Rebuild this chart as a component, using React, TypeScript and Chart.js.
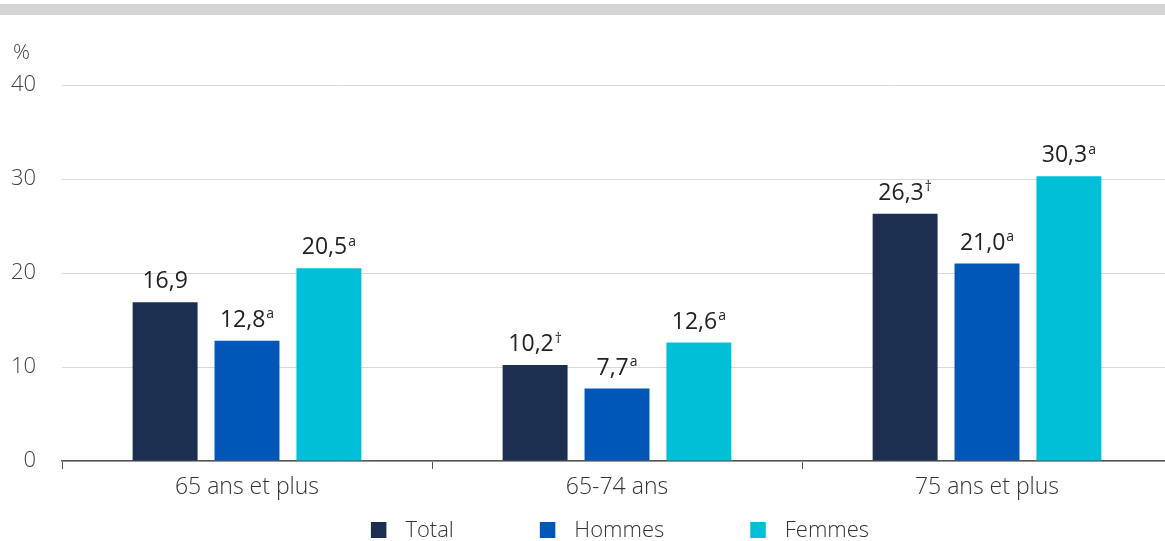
import React, { useEffect, useRef } from "react";
import { Chart, registerables } from "chart.js";

Chart.register(...registerables);

const categories = ["65 ans et plus", "65-74 ans", "75 ans et plus"];
const seriesNames = ["Total", "Hommes", "Femmes"];
const totalValues = [16.9, 10.2, 26.3];
const hommesValues = [12.8, 7.7, 21.0];
const femmesValues = [20.5, 12.6, 30.3];
const totalNotes = ["", "†", "†"];
const hommesNotes = ["a", "a", "a"];
const femmesNotes = ["a", "a", "a"];
const seriesColors = ["#1d2f50", "#0057b8", "#00bfd6"];
const yTicks = [0, 10, 20, 30, 40];
const unitLabel = "%";

const FONT = "'Open Sans', 'Noto Sans', sans-serif";

const labelsPlugin = {
  id: "valueLabels",
  afterDatasetsDraw(chart: any) {
    const ctx = chart.ctx;
    const notes = [totalNotes, hommesNotes, femmesNotes];
    ctx.save();
    chart.data.datasets.forEach((ds: any, di: number) => {
      const meta = chart.getDatasetMeta(di);
      meta.data.forEach((bar: any, i: number) => {
        const main = ds.data[i].toFixed(1).replace(".", ",");
        const sup = notes[di][i] || "";
        ctx.font = `23px ${FONT}`;
        const wMain = ctx.measureText(main).width;
        ctx.font = `14px ${FONT}`;
        const wSup = sup ? ctx.measureText(sup).width + 1 : 0;
        const total = wMain + wSup;
        const x0 = bar.x - total / 2;
        const base = bar.y - 14;
        ctx.fillStyle = "#222";
        ctx.textAlign = "left";
        ctx.textBaseline = "alphabetic";
        ctx.font = `23px ${FONT}`;
        ctx.fillText(main, x0, base);
        if (sup) {
          ctx.font = `14px ${FONT}`;
          ctx.fillText(sup, x0 + wMain + 1, base - 8.3);
        }
      });
    });
    ctx.restore();
  },
};

const extrasPlugin = {
  id: "extras",
  afterDraw(chart: any) {
    const ctx = chart.ctx;
    const area = chart.chartArea;
    ctx.save();
    // unit label
    ctx.font = `300 21px ${FONT}`;
    ctx.fillStyle = "#444";
    ctx.textAlign = "left";
    ctx.textBaseline = "alphabetic";
    ctx.fillText(unitLabel, 13, area.top - 26);
    // legend
    const box = 15.5;
    const gapText = 19;
    const gapItem = 86;
    ctx.font = `300 22px ${FONT}`;
    const items = chart.data.datasets.map((ds: any) => ({
      label: ds.label,
      color: ds.backgroundColor,
      w: ctx.measureText(ds.label).width,
    }));
    let totalW = 0;
    items.forEach((it: any, i: number) => {
      totalW += box + gapText + it.w + (i < items.length - 1 ? gapItem : 0);
    });
    let x = (area.left + area.right) / 2 - totalW / 2 + 3;
    const cy = area.bottom + 69;
    items.forEach((it: any) => {
      ctx.fillStyle = it.color;
      ctx.fillRect(x, cy - 8, box, 16);
      ctx.fillStyle = "#333";
      ctx.textBaseline = "middle";
      ctx.fillText(it.label, x + box + gapText, cy + 1);
      x += box + gapText + it.w + gapItem;
    });
    ctx.restore();
  },
};

export default function App() {
  const ref = useRef<HTMLCanvasElement | null>(null);

  useEffect(() => {
    document.body.style.margin = "0";
    document.body.style.overflow = "hidden";
    if (!ref.current) return;
    const chart = new Chart(ref.current, {
      type: "bar",
      data: {
        labels: categories,
        datasets: [
          { label: seriesNames[0], data: totalValues, backgroundColor: seriesColors[0] },
          { label: seriesNames[1], data: hommesValues, backgroundColor: seriesColors[1] },
          { label: seriesNames[2], data: femmesValues, backgroundColor: seriesColors[2] },
        ],
      },
      options: {
        animation: false,
        responsive: false,
        maintainAspectRatio: false,
        events: [],
        datasets: {
          bar: { categoryPercentage: 0.664, barPercentage: 0.793 },
        },
        layout: { padding: { top: 85, bottom: 35, left: 0, right: 3 } },
        plugins: {
          legend: { display: false },
          tooltip: { enabled: false },
        },
        scales: {
          x: {
            grid: {
              display: true,
              drawOnChartArea: false,
              drawTicks: true,
              tickLength: 8,
              offset: true,
              color: "#555",
            },
            border: { display: true, color: "#555", width: 1.5 },
            ticks: {
              padding: 5,
              color: "#333",
              font: { family: FONT, size: 23, weight: "300" },
            },
            afterFit(scale: any) {
              scale.height = 45;
            },
          },
          y: {
            min: 0,
            max: 40,
            afterBuildTicks(scale: any) {
              scale.ticks = yTicks.map((v) => ({ value: v }));
            },
            grid: { color: "#d9d9d9", drawTicks: false, lineWidth: 1 },
            border: { display: false },
            ticks: {
              padding: 26,
              color: "#444",
              font: { family: FONT, size: 22, weight: "300" },
            },
            afterFit(scale: any) {
              scale.width = 62;
            },
          },
        },
      },
      plugins: [labelsPlugin, extrasPlugin],
    });
    return () => chart.destroy();
  }, []);

  return (
    <div style={{ position: "relative", width: 1175, height: 541, background: "#fff" }}>
      <div
        style={{
          position: "absolute",
          top: 4,
          left: 0,
          width: 1175,
          height: 11,
          background: "#d4d6d6",
        }}
      />
      <canvas ref={ref} width={1175} height={541} style={{ display: "block" }} />
    </div>
  );
}
